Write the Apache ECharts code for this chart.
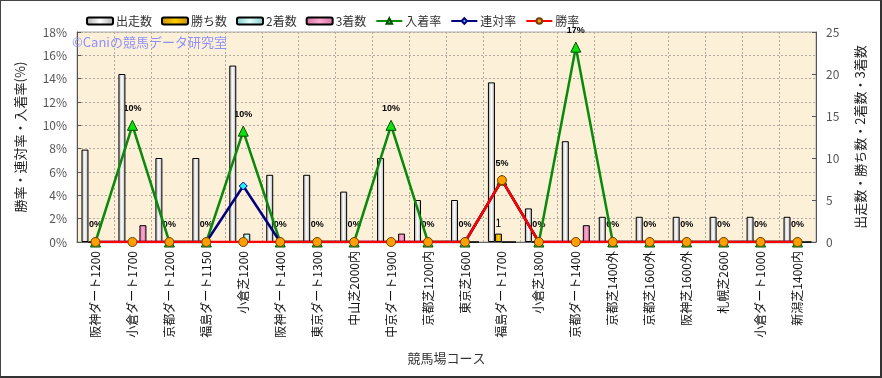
<!DOCTYPE html>
<html>
<head>
<meta charset="utf-8">
<script src="https://cdn.jsdelivr.net/npm/echarts@6/dist/echarts.min.js"></script>
<style>
html,body{margin:0;padding:0;background:#fff;}
#wrap{width:882px;height:378px;box-sizing:border-box;border-top:1px solid #444;border-left:1px solid #444;border-right:2px solid #333;border-bottom:2px solid #333;}
#c{width:879px;height:375px;}
</style>
</head>
<body>
<div id="wrap"><div id="c"></div></div>
<script>
const categories = ['阪神ダート1200','小倉ダート1700','京都ダート1200','福島ダート1150','小倉芝1200','阪神ダート1400','東京ダート1300','中山芝2000内','中京ダート1900','京都芝1200内','東京芝1600','福島ダート1700','小倉芝1800','京都ダート1400','京都芝1400外','京都芝1600外','阪神芝1600外','札幌芝2600','小倉ダート1000','新潟芝1400内'];
const starts  = [11,20,10,10,21,8,8,6,10,5,5,19,4,12,3,3,3,3,3,3];
const wins    = [0,0,0,0,0,0,0,0,0,0,0,1,0,0,0,0,0,0,0,0];
const second  = [0,0,0,0,1,0,0,0,0,0,0,0,0,0,0,0,0,0,0,0];
const third   = [0,2,0,0,0,0,0,0,1,0,0,0,0,2,0,0,0,0,0,0];
const placeRate = [0,10,0,0,9.5,0,0,0,10,0,0,5.3,0,16.7,0,0,0,0,0,0];
const rentaiRate = [0,0,0,0,4.8,0,0,0,0,0,0,5.3,0,0,0,0,0,0,0,0];
const winRate = [0,0,0,0,0,0,0,0,0,0,0,5.3,0,0,0,0,0,0,0,0];
const leftTicks = {min:0,max:18,interval:2};
const rightTicks = {min:0,max:25,interval:5};

const chart = echarts.init(document.getElementById('c'));
function grad(a,b){return new echarts.graphic.LinearGradient(0,0,1,0,[{offset:0,color:a},{offset:0.5,color:b},{offset:1,color:a}]);}
const barBase = {type:'bar',yAxisIndex:1,barWidth:7,barGap:'0%',z:2};
const fontFam = '"Noto Sans CJK JP","Liberation Sans",sans-serif';
chart.setOption({
  animation:false,
  textStyle:{fontFamily:fontFam},
  graphic:[{type:'text',left:71,top:35,z:10,style:{text:'©Caniの競馬データ研究室',fill:'#9090fa',font:'13px '+fontFam}}],
  legend:{
    left:80,top:9,itemWidth:26,itemHeight:7,itemGap:9,
    textStyle:{fontSize:12,color:'#333',fontFamily:fontFam,padding:[0,0,0,-2]},
    data:['出走数','勝ち数','2着数','3着数','入着率','連対率','勝率']
  },
  grid:{left:76,right:64,top:31,bottom:134,show:true,backgroundColor:'#fcf0d8',borderColor:'#aaa',borderWidth:1},
  xAxis:{
    type:'category',data:categories,
    name:'競馬場コース',nameLocation:'middle',nameGap:110,
    nameTextStyle:{fontSize:13,color:'#333'},
    axisLine:{show:true,lineStyle:{color:'#666'}},
    axisTick:{show:false},
    axisLabel:{rotate:90,margin:9,fontSize:12,color:'#111',interval:0},
    splitLine:{show:true,interval:0,lineStyle:{color:'#b0aaa0',type:[2,2]}}
  },
  yAxis:[{
    type:'value',min:leftTicks.min,max:leftTicks.max,interval:leftTicks.interval,
    name:'勝率・連対率・入着率(%)',nameLocation:'middle',nameGap:50,nameRotate:90,
    nameTextStyle:{fontSize:13,color:'#222'},
    axisLine:{show:true,lineStyle:{color:'#555'}},
    axisTick:{show:true,inside:true,length:4,lineStyle:{color:'#555'}},
    axisLabel:{formatter:'{value}%',fontSize:12,color:'#555',margin:10},
    splitLine:{show:true,lineStyle:{color:'#b0aaa0',type:[2,2]}}
  },{
    type:'value',min:rightTicks.min,max:rightTicks.max,interval:rightTicks.interval,
    name:'出走数・勝ち数・2着数・3着数',nameLocation:'middle',nameGap:38,nameRotate:90,
    nameTextStyle:{fontSize:13,color:'#222'},
    axisLine:{show:true,lineStyle:{color:'#555'}},
    axisTick:{show:true,inside:true,length:4,lineStyle:{color:'#555'}},
    axisLabel:{fontSize:12,color:'#555',margin:10},
    splitLine:{show:false}
  }],
  series:[
    Object.assign({},barBase,{name:'出走数',data:starts,itemStyle:{color:grad('#a8a8a8','#ffffff'),borderColor:'#000',borderWidth:1}}),
    Object.assign({},barBase,{name:'勝ち数',data:wins,itemStyle:{color:grad('#c89000','#ffcc00'),borderColor:'#000',borderWidth:1},
      label:{show:true,position:'top',distance:5,fontSize:11,color:'#000',formatter:p=>p.value>0?String(p.value):''}}),
    Object.assign({},barBase,{name:'2着数',data:second,itemStyle:{color:grad('#80c8c8','#e0ffff'),borderColor:'#000',borderWidth:1}}),
    Object.assign({},barBase,{name:'3着数',data:third,itemStyle:{color:grad('#d070a0','#ffa8d0'),borderColor:'#000',borderWidth:1}}),
    {name:'入着率',type:'line',yAxisIndex:0,data:placeRate,z:4,symbol:'triangle',symbolSize:10,
      lineStyle:{color:'#0a8a0a',width:2.5},itemStyle:{color:'#10e010',borderColor:'#005000',borderWidth:1}},
    {name:'連対率',type:'line',yAxisIndex:0,data:rentaiRate,z:5,symbol:'diamond',symbolSize:8,
      lineStyle:{color:'#000080',width:2.5},itemStyle:{color:'#20f0ff',borderColor:'#000080',borderWidth:1}},
    {name:'勝率',type:'line',yAxisIndex:0,data:winRate,z:6,symbol:'circle',symbolSize:9,
      lineStyle:{color:'#ff0000',width:2.5},itemStyle:{color:'#ffa000',borderColor:'#704000',borderWidth:1}},
    {name:'入着率ラベル',type:'line',yAxisIndex:0,data:placeRate,z:1,symbol:'circle',symbolSize:1,
      lineStyle:{opacity:0},itemStyle:{color:'transparent'},tooltip:{show:false},
      label:{show:true,position:'top',distance:12,fontSize:9,fontWeight:'bold',color:'#000',fontFamily:'"Liberation Sans",sans-serif',
        formatter:p=>Math.round(p.value)+'%'}}
  ]
});
</script>
</body>
</html>
